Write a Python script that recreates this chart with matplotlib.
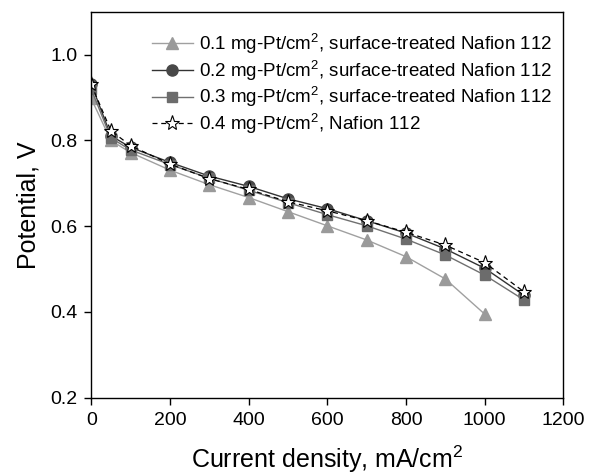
import numpy as np
import matplotlib
matplotlib.use("Agg")
from matplotlib import pyplot as plt

plt.rcParams['font.family'] = ['Liberation Sans', 'DejaVu Sans']
plt.rcParams['mathtext.fontset'] = 'custom'
plt.rcParams['mathtext.rm'] = 'Liberation Sans'

# current density, mA/cm2
x_01 = [0, 50, 100, 200, 300, 400, 500, 600, 700, 800, 900, 1000]
x_all = [0, 50, 100, 200, 300, 400, 500, 600, 700, 800, 900, 1000, 1100]

# potential, V
v_01 = [0.898, 0.800, 0.772, 0.731, 0.697, 0.667, 0.634, 0.601, 0.568, 0.529, 0.477, 0.395]
v_02 = [0.932, 0.811, 0.784, 0.749, 0.717, 0.693, 0.664, 0.641, 0.613, 0.584, 0.547, 0.502, 0.439]
v_03 = [0.920, 0.806, 0.778, 0.744, 0.712, 0.684, 0.655, 0.627, 0.601, 0.570, 0.533, 0.486, 0.428]
v_04 = [0.931, 0.823, 0.788, 0.745, 0.711, 0.686, 0.657, 0.636, 0.613, 0.586, 0.556, 0.515, 0.447]

labels = [
    "0.1 mg-Pt/cm$^2$, surface-treated Nafion 112",
    "0.2 mg-Pt/cm$^2$, surface-treated Nafion 112",
    "0.3 mg-Pt/cm$^2$, surface-treated Nafion 112",
    "0.4 mg-Pt/cm$^2$, Nafion 112",
]

fig = plt.figure(figsize=(6, 4.76), dpi=100)
ax = fig.add_axes([0.152, 0.1645, 0.787, 0.8105])

ax.plot(x_01, v_01, color='#a0a0a0', lw=1, marker='^', ms=9,
        mfc='#9a9a9a', mec='#9a9a9a', label=labels[0])
ax.plot(x_all, v_02, color='#333333', lw=1, marker='o', ms=8,
        mfc='#484848', mec='#484848', label=labels[1])
ax.plot(x_all, v_03, color='#707070', lw=1, marker='s', ms=7,
        mfc='#6c6c6c', mec='#6c6c6c', label=labels[2])
ax.plot(x_all, v_04, color='black', lw=0.9, ls=(0, (4, 3)), marker='*', ms=11,
        mfc='white', mec='black', mew=0.8, label=labels[3])

ax.set_xlim(0, 1200)
ax.set_ylim(0.2, 1.1)
ax.set_xticks(np.arange(0, 1201, 200))
ax.set_yticks([0.2, 0.4, 0.6, 0.8, 1.0])
ax.set_yticklabels(["0.2", "0.4", "0.6", "0.8", "1.0"])
ax.tick_params(labelsize=14, length=5, width=1, direction='out', pad=5)
for s in ax.spines.values():
    s.set_linewidth(1)

ax.set_xlabel("Current density, mA/cm$^2$", fontsize=18, labelpad=10.5)
ax.set_ylabel("Potential, V", fontsize=18, labelpad=7)

leg = ax.legend(loc='upper left', bbox_to_anchor=(0.128, 0.95), frameon=False,
                fontsize=13.5, handlelength=2.2, handletextpad=0.3, labelspacing=0.1,
                borderpad=0, borderaxespad=0)

fig.savefig("out.png", dpi=100)
